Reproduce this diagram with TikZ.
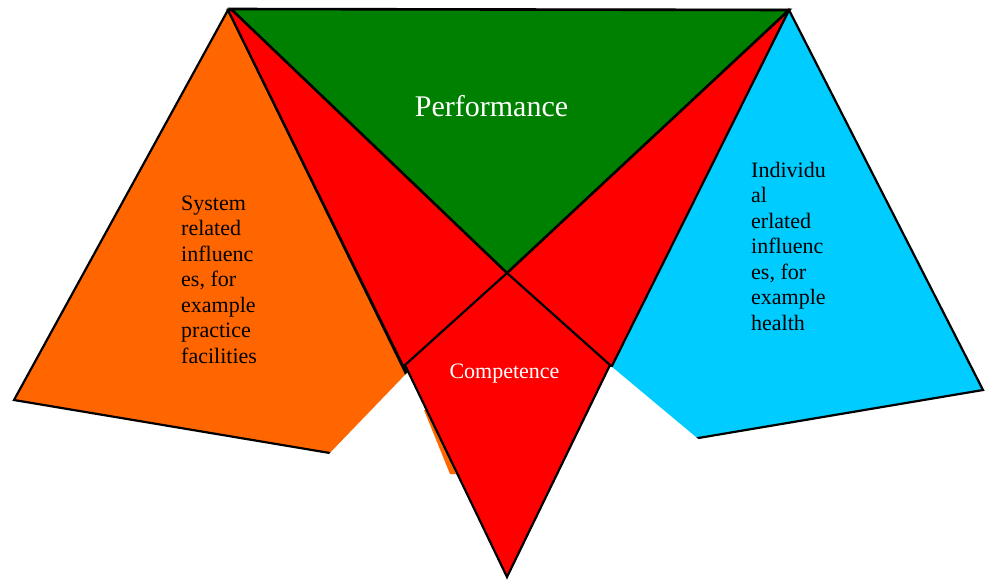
\documentclass[tikz,border=0pt]{standalone}
\usepackage{fontspec}
\setmainfont{Liberation Serif}
\definecolor{pgreen}{RGB}{0,128,0}
\definecolor{pred}{RGB}{255,0,0}
\definecolor{porange}{RGB}{255,102,0}
\definecolor{pcyan}{RGB}{0,204,255}
\begin{document}
\begin{tikzpicture}[x=1pt,y=-1pt,
  face/.style={line width=2.2pt,line join=miter},
  blacktext/.style={font=\fontsize{22}{25.5}\selectfont,text=black,align=left,anchor=base west,inner sep=0pt},
  whitetext/.style={text=white,anchor=base,inner sep=0pt}]
\useasboundingbox (0,0) rectangle (987,579);
% key points
\coordinate (TL) at (228,10);
\coordinate (TR) at (789,10);
\coordinate (C) at (507,273);
\coordinate (KL) at (405,365);
\coordinate (KR) at (610,365);
\coordinate (B) at (507,577);
\coordinate (OL) at (14,400);
\coordinate (OB) at (455,474);
\coordinate (CR) at (983,390);
\coordinate (CB) at (562,461);
% side faces
\filldraw[face,fill=porange] (TL) -- (OL) -- (OB) -- cycle;
\filldraw[face,fill=pcyan] (TR) -- (CR) -- (CB) -- cycle;
% big red face
\filldraw[face,fill=pred] (TL) -- (TR) -- (B) -- cycle;
% white cut-out
\fill[white] (206,579) -- (330,453) -- (407,373) -- (612,367) -- (697,438) -- (859,579) -- cycle;
% orange sliver
\fill[porange] (424,410) -- (428,410) -- (456,474) -- (450,474) -- cycle;
% competence kite
\fill[pred] (C) -- (KL) -- (B) -- (KR) -- cycle;
\draw[face] (C) -- (KL) -- (B) -- (KR) -- cycle;
% performance face
\filldraw[face,fill=pgreen,line width=2.6pt] (231,9) -- (TR) -- (C) -- cycle;
% texts
\node[whitetext,font=\fontsize{30}{34}\selectfont] (perf) at (491.5,116.7) {Performance};
\node[whitetext,font=\fontsize{22}{25.5}\selectfont] (comp) at (504.5,378) {Competence};
\node[blacktext] (sys) at (181,363) {System\\related\\influenc\\es, for\\example\\practice\\facilities};
\node[blacktext] (ind) at (751,330) {Individu\\al\\erlated\\influenc\\es, for\\example\\health};
\end{tikzpicture}
\end{document}
